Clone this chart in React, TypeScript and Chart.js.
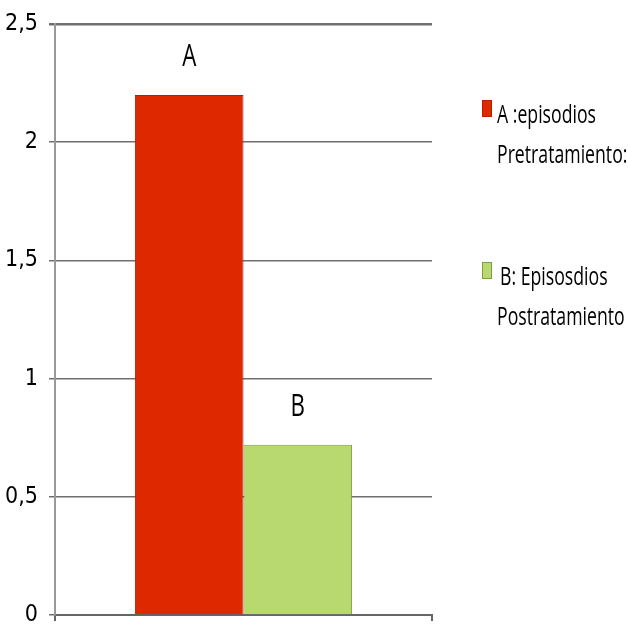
import React, { useEffect, useRef } from "react";
import { Chart, registerables } from "chart.js";

Chart.register(...registerables);

const categories = [""];
const seriesNames = ["A :episodios Pretratamiento:", "B: Episosdios Postratamiento"];
const seriesValues = [[2.2], [0.72]];
const barLabels = ["A", "B"];
const legendLines = [
  ["A :episodios", "Pretratamiento:"],
  ["B: Episosdios", "Postratamiento"],
];
const yTicks = [0, 0.5, 1, 1.5, 2, 2.5];
const colors = ["#de2900", "#b7d970"];
const borderColors = ["#b52000", "#7f9f3c"];

function drawCondensed(ctx: CanvasRenderingContext2D, text: string, x: number, y: number, sx: number) {
  ctx.save();
  ctx.translate(x, y);
  ctx.scale(sx, 1);
  ctx.fillText(text, 0, 0);
  ctx.restore();
}

const barLabelPlugin = {
  id: "barLabelPlugin",
  afterDatasetsDraw(chart: any) {
    const ctx = chart.ctx as CanvasRenderingContext2D;
    ctx.save();
    ctx.fillStyle = "#000";
    ctx.font = "31px 'Open Sans'";
    ctx.textBaseline = "middle";
    chart.data.datasets.forEach((_: any, i: number) => {
      const meta = chart.getDatasetMeta(i);
      const el = meta.data[0];
      if (!el) return;
      const w = ctx.measureText(barLabels[i]).width * 0.72;
      drawCondensed(ctx, barLabels[i], el.x - w / 2, el.y - 38, 0.72);
    });
    ctx.restore();
  },
};

const legendPlugin = {
  id: "sideLegend",
  afterDraw(chart: any) {
    const ctx = chart.ctx as CanvasRenderingContext2D;
    const x0 = chart.chartArea.right + 50;
    const tops = [100, 262];
    ctx.save();
    ctx.textBaseline = "middle";
    ctx.font = "26px 'Open Sans'";
    legendLines.forEach((lines, i) => {
      const top = tops[i];
      ctx.fillStyle = colors[i];
      ctx.fillRect(x0, top, 10, 17);
      ctx.strokeStyle = borderColors[i];
      ctx.lineWidth = 1;
      ctx.strokeRect(x0 + 0.5, top + 0.5, 9, 16);
      ctx.fillStyle = "#000";
      lines.forEach((ln, j) => {
        drawCondensed(ctx, ln, x0 + 15 + (i === 1 && j === 0 ? 3 : 0), top + 16 + j * 40, 0.68);
      });
    });
    ctx.restore();
  },
};

export default function App() {
  const ref = useRef<HTMLCanvasElement>(null);
  useEffect(() => {
    document.body.style.margin = "0";
    const chart = new Chart(ref.current!, {
      type: "bar",
      data: {
        labels: categories,
        datasets: seriesNames.map((name, i) => ({
          label: name,
          data: seriesValues[i],
          backgroundColor: colors[i],
          borderColor: borderColors[i],
          borderWidth: 1,
          barPercentage: 1,
          categoryPercentage: 0.576,
        })),
      },
      options: {
        responsive: true,
        maintainAspectRatio: false,
        animation: false,
        layout: { padding: { top: 24, right: 201, left: 0, bottom: 0 } },
        plugins: { legend: { display: false }, tooltip: { enabled: false } },
        scales: {
          x: {
            offset: true,
            ticks: { display: false },
            grid: { display: true, drawOnChartArea: false, tickLength: 6, color: "#666", lineWidth: 2 },
            border: { color: "#666", width: 2 },
            afterFit: (s: any) => { s.height = 15; s.paddingLeft = 0; s.paddingRight = 0; },
          },
          y: {
            min: 0,
            max: 2.5,
            afterBuildTicks: (s: any) => { s.ticks = yTicks.map((v) => ({ value: v })); },
            ticks: {
              callback: (v: any) => String(v).replace(".", ","),
              color: "#000",
              font: { family: "'DejaVu Sans Condensed', 'DejaVu Sans'", size: 23 },
              padding: 11,
            },
            grid: { color: "#6f6f6f", lineWidth: (c: any) => (c.tick && c.tick.value === 2.5 ? 2.5 : 1.5), tickLength: 6 },
            border: { color: "#999", width: 2 },
            afterFit: (s: any) => { s.width = 55; s.paddingTop = 0; s.paddingBottom = 0; },
          },
        },
      },
      plugins: [barLabelPlugin, legendPlugin],
    });
    return () => chart.destroy();
  }, []);
  return (
    <div style={{ position: "relative", width: 633, height: 630, background: "#fff" }}>
      <canvas ref={ref} />
    </div>
  );
}
